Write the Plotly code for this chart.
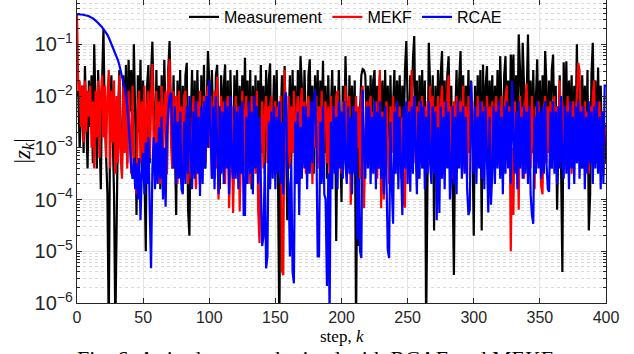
import numpy as np
import plotly.graph_objects as go

# log10 of |z_k|, steps k = 0..400
steps = list(range(0, 401))

measurement_log10 = [
    -2.0, -1.9, -3.0, -2.3, -1.8, -3.1, -1.42, -2.5, -3.4, -1.7,
    -2.6, -1.6, -3.3, -1.0, -2.2, -3.4, -1.5, -2.8, -3.8, -1.7,
    -0.7, -2.4, -3.3, -3.9, -6.5, -2.6, -1.6, -3.2, -3.9, -6.5,
    -3.7, -2.4, -1.5, -3.0, -3.5, -1.6, -2.8, -1.4, -3.3, -1.3,
    -2.3, -1.5, -3.1, -1.0, -2.4, -4.3, -1.6, -2.7, -1.3, -3.4,
    -1.7, -3.0, -5.0, -1.8, -1.4, -3.3, -1.6, -0.95, -2.4, -3.6,
    -1.5, -2.9, -1.8, -3.8, -1.6, -3.1, -1.3, -2.6, -3.5, -1.5,
    -0.94, -2.3, -3.4, -1.6, -2.9, -4.3, -1.7, -3.0, -1.5, -3.7,
    -1.8, -3.2, -1.6, -1.36, -4.2, -4.7, -2.5, -1.5, -3.3, -1.7,
    -3.5, -1.5, -2.7, -3.7, -1.6, -2.9, -1.4, -3.4, -2.3, -1.13,
    -1.7, -3.0, -1.5, -2.6, -3.6, -1.6, -1.4, -2.9, -3.8, -1.6,
    -2.8, -1.8, -1.39, -3.3, -1.7, -3.5, -1.5, -2.7, -3.7, -1.6,
    -2.9, -1.5, -3.4, -1.8, -3.1, -1.6, -2.8, -1.26, -2.7, -1.7,
    -3.3, -1.5, -3.8, -1.8, -3.0, -1.6, -3.4, -1.7, -2.7, -1.4,
    -3.1, -1.8, -3.5, -1.5, -2.8, -1.7, -1.37, -3.3, -2.4, -1.6,
    -2.9, -1.5, -3.6, -6.5, -2.5, -1.6, -3.1, -1.42, -2.8, -4.4,
    -2.5, -1.6, -3.3, -1.5, -2.9, -1.8, -3.5, -1.5, -2.7, -1.23,
    -1.8, -3.1, -1.5, -2.7, -3.4, -1.6, -1.29, -2.9, -1.8, -3.5,
    -1.6, -2.8, -1.5, -3.3, -1.7, -2.7, -1.32, -3.1, -1.8, -3.6,
    -1.6, -2.9, -2.2, -1.5, -3.3, -1.8, -4.8, -2.5, -1.5, -3.0,
    -4.05, -1.8, -3.0, -1.23, -2.4, -3.4, -1.6, -2.8, -1.8, -3.3,
    -1.7, -6.5, -2.9, -4.9, -2.3, -1.6, -1.48, -1.5, -1.6, -2.5,
    -1.8, -3.1, -1.6, -2.7, -1.7, -1.5, -3.0, -1.8, -3.4, -1.6,
    -2.7, -1.7, -3.3, -1.5, -2.8, -1.8, -3.5, -1.6, -2.9, -2.2,
    -1.5, -3.1, -1.7, -2.7, -1.6, -3.3, -1.8, -2.8, -1.5, -0.94,
    -2.4, -3.3, -1.6, -2.7, -1.3, -0.84, -2.9, -1.7, -3.4, -1.6,
    -2.7, -1.5, -3.1, -1.7, -6.5, -2.7, -0.97, -1.8, -3.0, -1.6,
    -4.6, -1.8, -3.1, -1.5, -2.7, -1.6, -1.13, -3.0, -1.7, -3.3,
    -1.6, -1.23, -2.7, -1.8, -3.4, -5.46, -2.4, -1.5, -3.0, -1.7,
    -1.13, -2.8, -1.6, -3.3, -1.8, -2.7, -1.5, -3.1, -1.7, -2.8,
    -4.7, -1.8, -3.1, -1.6, -2.7, -1.5, -4.6, -1.39, -3.0, -1.8,
    -1.42, -3.3, -1.7, -2.7, -1.6, -3.1, -1.8, -2.8, -1.5, -3.0,
    -1.23, -2.4, -3.3, -1.6, -1.23, -2.7, -1.7, -3.1, -1.2, -1.8,
    -1.2, -3.0, -1.6, -2.7, -0.81, -1.5, -3.0, -0.97, -1.8, -3.3,
    -1.6, -0.81, -2.7, -1.7, -3.1, -1.5, -2.8, -1.8, -1.29, -3.0,
    -1.7, -3.3, -1.6, -2.7, -1.13, -1.8, -3.1, -1.7, -2.8, -1.5,
    -1.2, -3.0, -1.8, -4.2, -2.4, -1.6, -3.3, -5.4, -1.35, -2.7,
    -1.33, -3.1, -1.7, -2.8, -1.6, -3.3, -1.8, -2.7, -1.0, -3.0,
    -1.7, -3.4, -1.6, -2.8, -1.8, -3.1, -1.5, -4.6, -3.9, -1.6,
    -0.97, -2.7, -1.7, -3.3, -1.45, -2.8, -1.8, -3.1, -2.4, -3.3,
    -2.55,
]

mekf_log10 = [
    -0.42, -1.9, -1.7, -2.6, -1.8, -2.9, -1.7, -2.7, -1.9, -2.4,
    -1.8, -3.0, -2.1, -3.4, -1.9, -2.8, -1.7, -3.2, -2.0, -1.6,
    -2.8, -1.8, -3.2, -2.0, -1.5, -3.4, -1.9, -2.9, -1.7, -3.5,
    -2.0, -3.3, -1.6, -3.0, -3.6, -1.8, -3.1, -2.0, -3.4, -1.9,
    -2.7, -3.5, -1.8, -3.2, -3.6, -3.9, -2.2, -1.9, -3.3, -2.1,
    -3.1, -1.8, -3.5, -2.2, -1.9, -3.2, -2.0, -1.38, -3.0, -3.5,
    -1.9, -3.1, -2.1, -3.7, -1.8, -3.2, -2.2, -1.9, -3.5, -1.6,
    -1.29, -2.8, -3.4, -1.9, -3.1, -2.0, -3.7, -1.9, -3.2, -2.2,
    -3.4, -2.0, -1.9, -3.1, -3.7, -2.2, -3.6, -2.8, -2.0, -3.3,
    -3.8, -2.1, -3.1, -1.9, -3.6, -2.3, -2.0, -3.3, -2.1, -1.8,
    -3.0, -2.0, -3.6, -2.2, -1.9, -3.4, -1.63, -4.0, -2.8, -2.0,
    -3.3, -2.1, -3.7, -2.3, -2.0, -4.17, -3.1, -2.2, -4.26, -2.9,
    -2.0, -3.4, -2.2, -4.23, -3.1, -1.9, -3.5, -2.3, -2.0, -3.3,
    -2.2, -3.7, -2.0, -3.1, -2.3, -3.5, -1.9, -4.2, -4.84, -2.9,
    -2.1, -3.4, -2.3, -2.0, -3.3, -2.2, -3.7, -2.0, -3.1, -2.3,
    -2.1, -3.5, -2.2, -3.1, -2.0, -5.38, -5.46, -1.5, -2.9, -3.3,
    -2.0, -3.4, -2.2, -3.1, -1.9, -3.6, -2.3, -2.0, -3.3, -2.2,
    -1.84, -3.1, -2.1, -3.5, -2.3, -2.0, -3.3, -2.2, -3.7, -2.1,
    -3.0, -2.0, -3.4, -2.2, -3.1, -1.9, -3.6, -2.3, -2.1, -3.3,
    -2.2, -3.7, -2.0, -3.0, -2.2, -3.4, -2.0, -1.9, -3.2, -2.3,
    -3.5, -2.1, -3.0, -1.8, -3.3, -2.2, -2.0, -4.1, -3.1, -2.2,
    -3.4, -2.0, -3.0, -2.2, -3.6, -2.0, -1.8, -4.17, -3.0, -2.1,
    -3.3, -2.2, -2.0, -3.4, -2.3, -3.1, -2.1, -3.6, -2.2, -1.5,
    -4.17, -2.3, -4.0, -3.2, -2.1, -3.0, -3.7, -2.2, -3.1, -2.0,
    -3.4, -2.3, -2.1, -3.3, -2.2, -3.6, -2.4, -4.05, -4.16, -2.2,
    -3.1, -2.1, -3.4, -1.5, -2.9, -2.0, -3.3, -2.2, -3.6, -2.1,
    -3.0, -2.0, -3.4, -2.2, -3.1, -2.1, -3.3, -1.8, -2.9, -2.0,
    -3.5, -2.2, -3.1, -2.0, -3.0, -2.2, -1.8, -3.3, -2.1, -3.0,
    -2.0, -1.6, -3.2, -2.2, -3.6, -2.1, -3.0, -2.0, -3.4, -2.3,
    -2.1, -3.3, -1.8, -3.0, -2.2, -3.6, -2.0, -3.1, -2.3, -2.1,
    -3.4, -2.2, -3.1, -2.0, -3.3, -2.3, -2.1, -3.6, -2.2, -3.1,
    -2.0, -3.0, -2.2, -3.4, -2.1, -3.1, -2.3, -2.0, -3.3, -2.2,
    -3.0, -2.0, -3.4, -2.3, -2.1, -1.8, -3.1, -2.2, -5.0, -3.0,
    -4.3, -2.1, -3.3, -2.3, -4.2, -2.0, -3.1, -2.2, -3.6, -2.1,
    -1.76, -3.0, -2.2, -3.4, -2.0, -3.1, -3.8, -2.2, -3.3, -2.1,
    -3.0, -3.75, -3.9, -2.3, -2.0, -3.3, -2.2, -3.1, -2.1, -3.4,
    -2.3, -2.0, -3.2, -2.2, -3.1, -1.7, -2.9, -2.1, -3.4, -2.2,
    -3.1, -2.0, -3.0, -2.2, -3.5, -2.1, -3.1, -2.3, -2.0, -1.36,
    -1.5, -3.0, -2.2, -3.4, -2.1, -3.1, -2.3, -3.5, -2.2, -3.0,
    -2.0, -1.7, -3.1, -2.2, -3.3, -2.1, -3.0, -2.3, -3.5, -2.6,
    -2.75,
]

rcae_log10 = [
    -0.42, -0.42, -0.42, -0.42, -0.43, -0.43, -0.44, -0.44, -0.45, -0.46,
    -0.47, -0.49, -0.50, -0.52, -0.54, -0.57, -0.59, -0.62, -0.64, -0.67,
    -0.71, -0.74, -0.78, -0.82, -0.87, -0.93, -0.98, -1.04, -1.10, -1.16,
    -1.22, -1.31, -1.40, -1.50, -1.60, -1.70, -1.80, -1.95, -2.20, -2.50,
    -2.9, -3.4, -3.6, -3.2, -3.8, -3.3, -4.0, -3.2, -4.4, -3.5,
    -3.1, -3.9, -2.9, -3.7, -2.8, -4.2, -5.33, -3.4, -2.8, -3.8,
    -2.9, -3.7, -2.6, -3.6, -2.4, -4.0, -3.0, -4.14, -2.7, -2.3,
    -2.0, -1.94, -2.6, -3.4, -2.2, -3.7, -2.5, -3.6, -2.3, -3.8,
    -3.9, -2.5, -3.7, -2.2, -3.5, -2.0, -3.1, -3.8, -2.3, -3.6,
    -2.1, -3.5, -2.4, -3.93, -2.2, -3.7, -2.1, -3.4, -2.0, -3.0,
    -1.7, -2.6, -3.6, -2.2, -3.8, -2.0, -3.3, -3.9, -2.2, -3.5,
    -2.3, -3.7, -2.1, -3.4, -2.2, -3.9, -2.0, -3.3, -3.6, -2.2,
    -3.6, -2.3, -3.8, -2.2, -3.5, -2.1, -4.3, -4.3, -2.4, -3.7,
    -2.1, -3.5, -2.3, -3.9, -2.0, -3.4, -2.2, -3.7, -2.4, -3.9,
    -4.9, -4.72, -3.3, -5.33, -5.1, -2.5, -3.8, -2.3, -3.6, -2.2,
    -3.8, -2.4, -3.5, -2.1, -3.7, -2.5, -3.9, -2.1, -1.93, -3.4,
    -3.7, -5.1, -3.3, -5.4, -5.62, -2.5, -3.7, -2.3, -4.3, -2.6,
    -3.6, -2.2, -3.4, -2.2, -3.8, -2.4, -3.5, -2.1, -3.3, -2.2,
    -1.87, -2.9, -5.1, -5.1, -2.5, -3.7, -2.2, -3.9, -4.0, -5.67,
    -3.5, -6.3, -2.5, -3.8, -2.2, -3.5, -2.4, -3.8, -2.1, -3.4,
    -2.3, -3.6, -2.1, -3.3, -3.7, -2.2, -3.5, -2.4, -3.9, -2.2,
    -3.5, -2.3, -4.77, -3.6, -5.0, -5.13, -1.88, -2.9, -3.6, -2.2,
    -3.4, -2.2, -3.7, -2.4, -3.5, -2.1, -3.8, -2.3, -3.4, -2.1,
    -3.6, -2.4, -3.9, -2.2, -3.5, -4.98, -5.13, -2.5, -3.7, -4.47,
    -2.3, -3.5, -2.1, -3.8, -2.4, -3.6, -4.3, -2.2, -3.4, -2.1,
    -3.7, -2.3, -3.85, -2.2, -3.5, -2.0, -3.3, -3.9, -2.3, -3.6,
    -2.1, -3.4, -2.2, -3.8, -2.4, -3.5, -2.1, -3.3, -3.7, -2.2,
    -3.5, -2.3, -4.4, -2.6, -4.26, -2.2, -3.6, -2.4, -3.8, -2.1,
    -3.4, -2.3, -4.0, -3.5, -2.2, -3.7, -2.4, -3.9, -2.1, -3.4,
    -2.3, -3.6, -2.2, -3.5, -2.4, -3.8, -4.3, -4.2, -1.73, -2.9,
    -3.5, -2.2, -3.7, -2.4, -3.4, -2.1, -3.6, -2.3, -3.8, -2.2,
    -3.4, -4.25, -2.4, -4.1, -3.5, -2.2, -3.7, -2.3, -3.4, -2.1,
    -3.6, -2.4, -3.9, -2.2, -3.5, -2.1, -3.4, -2.3, -3.7, -1.71,
    -2.8, -3.5, -2.3, -3.8, -2.1, -3.4, -2.4, -3.6, -2.2, -3.5,
    -2.3, -3.7, -2.2, -3.9, -4.3, -4.47, -2.4, -3.5, -2.1, -3.4,
    -2.3, -3.6, -2.2, -3.5, -2.1, -3.3, -3.8, -3.85, -2.3, -3.4,
    -2.1, -3.5, -2.3, -3.7, -2.2, -3.4, -2.0, -3.3, -3.6, -2.2,
    -3.5, -2.3, -3.8, -2.1, -3.4, -2.4, -3.7, -2.2, -3.3, -2.1,
    -3.6, -2.3, -3.4, -2.2, -3.8, -2.4, -3.5, -2.1, -3.3, -2.3,
    -3.7, -2.2, -3.4, -2.1, -3.5, -2.4, -3.8, -2.3, -3.7, -1.8,
    -1.8,
]

series_names = ["Measurement", "MEKF", "RCAE"]
series_colors = ["#000000", "#ff0000", "#0000ff"]
series_log10 = [measurement_log10, mekf_log10, rcae_log10]

x_ticks = [0, 50, 100, 150, 200, 250, 300, 350, 400]

fig = go.Figure()
for name, color, vals in zip(series_names, series_colors, series_log10):
    fig.add_trace(go.Scatter(
        x=steps[:len(vals)], y=np.power(10.0, np.array(vals)),
        mode="lines", name=name,
        line=dict(color=color, width=2.2),
    ))

W, H = 634, 354
ml, mr, mt, mb = 77, 28, 0, 51
ph = H - mt - mb
pw = W - ml - mr

axis_col = "#262626"
tick_font = dict(family="Liberation Sans, Arial, sans-serif", size=16, color=axis_col)

fig.update_layout(
    width=W, height=H,
    margin=dict(l=ml, r=mr, t=mt, b=mb),
    paper_bgcolor="white", plot_bgcolor="white",
    showlegend=True,
    legend=dict(
        orientation="h", x=(184 - ml) / pw, xanchor="left",
        y=1.0, yanchor="top",
        bgcolor="rgba(255,255,255,0)",
        font=dict(family="Liberation Sans, Arial, sans-serif", size=16, color="#000000"),
        itemwidth=30, tracegroupgap=0,
    ),
    xaxis=dict(
        range=[0, 400], tickvals=x_ticks, ticktext=[str(v) for v in x_ticks],
        ticks="inside", ticklen=5, tickcolor=axis_col,
        showline=True, linecolor=axis_col, linewidth=1, mirror="allticks",
        showgrid=True, gridcolor="#e3e3e3", gridwidth=1,
        zeroline=False, tickfont=tick_font,
    ),
    yaxis=dict(
        type="log", range=[-6, -0.145], dtick=1,
        exponentformat="power",
        ticks="inside", ticklen=5, tickcolor=axis_col,
        showline=True, linecolor=axis_col, linewidth=1, mirror="allticks",
        showgrid=True, gridcolor="#e3e3e3", gridwidth=1,
        zeroline=False, tickfont=tick_font,
        minor=dict(ticks="inside", ticklen=3, tickcolor=axis_col,
                   showgrid=True, gridcolor="#d9d9d9", griddash="dot", gridwidth=1),
    ),
)

serif = "Liberation Serif, Times New Roman, serif"
fig.add_annotation(
    text="|<i>z<sub>k</sub></i>|", textangle=-90,
    xref="paper", yref="paper", x=(23 - ml) / pw, y=0.5,
    xanchor="center", yanchor="middle", showarrow=False,
    font=dict(family=serif, size=23, color="#000000"),
)
fig.add_annotation(
    text="step, <i>k</i>",
    xref="paper", yref="paper", x=0.5, y=-(336 - ph) / ph,
    xanchor="center", yanchor="middle", showarrow=False,
    font=dict(family=serif, size=17, color="#000000"),
)
fig.add_annotation(
    text="Fig. 6: Attitude error obtained with RCAE and MEKF",
    xref="paper", yref="paper", x=(315 - ml) / pw, y=-(344 - ph) / ph,
    xanchor="center", yanchor="top", showarrow=False,
    font=dict(family=serif, size=22, color="#000000"),
)

fig.write_html("out.html")
